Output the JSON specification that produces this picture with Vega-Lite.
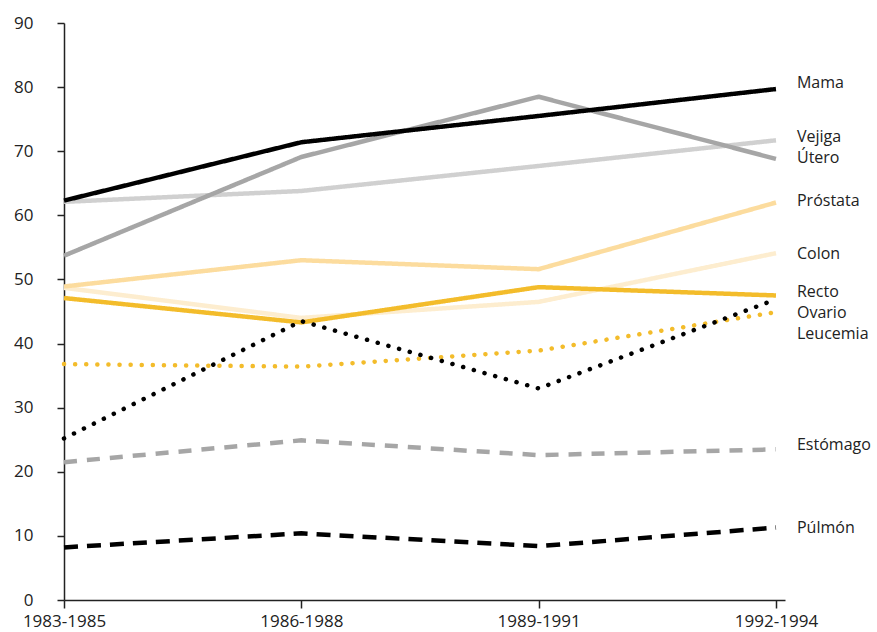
{
  "$schema": "https://vega.github.io/schema/vega-lite/v6.json",
  "width": 721,
  "height": 577,
  "autosize": {"type": "none"},
  "padding": {"left": 64, "top": 23, "right": 92, "bottom": 32},
  "background": "white",
  "config": {"view": {"stroke": null}, "font": "Open Sans"},
  "datasets": {
    "series": [
      {"s": "Púlmón", "t": 0, "v": 8.2}, {"s": "Púlmón", "t": 1, "v": 10.4}, {"s": "Púlmón", "t": 2, "v": 8.4}, {"s": "Púlmón", "t": 3, "v": 11.3},
      {"s": "Estómago", "t": 0, "v": 21.5}, {"s": "Estómago", "t": 1, "v": 24.9}, {"s": "Estómago", "t": 2, "v": 22.6}, {"s": "Estómago", "t": 3, "v": 23.5},
      {"s": "Colon", "t": 0, "v": 48.7}, {"s": "Colon", "t": 1, "v": 44.0}, {"s": "Colon", "t": 2, "v": 46.5}, {"s": "Colon", "t": 3, "v": 54.1},
      {"s": "Recto", "t": 0, "v": 47.1}, {"s": "Recto", "t": 1, "v": 43.3}, {"s": "Recto", "t": 2, "v": 48.8}, {"s": "Recto", "t": 3, "v": 47.5},
      {"s": "Próstata", "t": 0, "v": 48.9}, {"s": "Próstata", "t": 1, "v": 53.0}, {"s": "Próstata", "t": 2, "v": 51.6}, {"s": "Próstata", "t": 3, "v": 62.0},
      {"s": "Vejiga", "t": 0, "v": 62.1}, {"s": "Vejiga", "t": 1, "v": 63.8}, {"s": "Vejiga", "t": 2, "v": 67.7}, {"s": "Vejiga", "t": 3, "v": 71.7},
      {"s": "Útero", "t": 0, "v": 53.7}, {"s": "Útero", "t": 1, "v": 69.1}, {"s": "Útero", "t": 2, "v": 78.5}, {"s": "Útero", "t": 3, "v": 68.8},
      {"s": "Mama", "t": 0, "v": 62.3}, {"s": "Mama", "t": 1, "v": 71.4}, {"s": "Mama", "t": 2, "v": 75.5}, {"s": "Mama", "t": 3, "v": 79.7}
    ],
    "dotted": [
      {"s": "Ovario", "t": 0, "v": 36.8}, {"s": "Ovario", "t": 1, "v": 36.4}, {"s": "Ovario", "t": 2, "v": 38.9}, {"s": "Ovario", "t": 3, "v": 44.9},
      {"s": "Leucemia", "t": 0, "v": 25.2}, {"s": "Leucemia", "t": 1, "v": 43.5}, {"s": "Leucemia", "t": 2, "v": 33.0}, {"s": "Leucemia", "t": 3, "v": 46.9}
    ],
    "labels": [
      {"s": "Mama", "v": 80.7}, {"s": "Vejiga", "v": 72.2}, {"s": "Útero", "v": 69.0},
      {"s": "Próstata", "v": 62.2}, {"s": "Colon", "v": 54.0}, {"s": "Recto", "v": 48.0},
      {"s": "Ovario", "v": 44.8}, {"s": "Leucemia", "v": 41.5}, {"s": "Estómago", "v": 24.2},
      {"s": "Púlmón", "v": 11.2}
    ]
  },
  "layer": [
    {
      "data": {"name": "series"},
      "mark": {"type": "line", "strokeWidth": 4.5, "strokeCap": "butt", "strokeJoin": "miter"},
      "encoding": {
        "x": {
          "field": "t", "type": "quantitative",
          "scale": {"domain": [0, 3.038], "nice": false, "zero": false},
          "axis": {
            "values": [0, 1, 2, 3],
            "labelExpr": "['1983-1985','1986-1988','1989-1991','1992-1994'][datum.value]",
            "title": null, "grid": false,
            "domainColor": "#222", "domainWidth": 1.5,
            "tickColor": "#222", "tickWidth": 1.5, "tickSize": 8,
            "labelFontSize": 17, "labelColor": "#222", "labelPadding": 5,
            "labelFlush": false, "labelOverlap": false
          }
        },
        "y": {
          "field": "v", "type": "quantitative",
          "scale": {"domain": [0, 90], "nice": false},
          "axis": {
            "values": [0, 10, 20, 30, 40, 50, 60, 70, 80, 90],
            "title": null, "grid": false,
            "domainColor": "#222", "domainWidth": 1.5,
            "tickColor": "#222", "tickWidth": 1.5, "tickSize": 7,
            "labelFontSize": 17, "labelColor": "#222", "labelPadding": 24
          }
        },
        "color": {
          "field": "s", "type": "nominal", "legend": null,
          "scale": {
            "domain": ["Mama", "Vejiga", "Útero", "Próstata", "Colon", "Recto", "Estómago", "Púlmón"],
            "range": ["#000000", "#d0d0d0", "#a6a6a6", "#fcdc9e", "#fdedcf", "#f3bc2b", "#a6a6a6", "#000000"]
          }
        },
        "strokeDash": {
          "field": "s", "type": "nominal", "legend": null,
          "scale": {
            "domain": ["Mama", "Vejiga", "Útero", "Próstata", "Colon", "Recto", "Estómago", "Púlmón"],
            "range": [[1, 0], [1, 0], [1, 0], [1, 0], [1, 0], [1, 0], [13, 10], [14, 9]]
          }
        },
        "order": {"field": "t"}
      }
    },
    {
      "data": {"name": "dotted"},
      "mark": {"type": "line", "strokeWidth": 4.5, "strokeCap": "round", "strokeDash": [0.1, 11]},
      "encoding": {
        "x": {"field": "t", "type": "quantitative"},
        "y": {"field": "v", "type": "quantitative"},
        "color": {
          "field": "s", "type": "nominal", "legend": null,
          "scale": {"domain": ["Ovario", "Leucemia"], "range": ["#f3bc2b", "#000000"]}
        },
        "order": {"field": "t"}
      }
    },
    {
      "data": {"name": "labels"},
      "mark": {"type": "text", "align": "left", "baseline": "middle", "dx": 21, "fontSize": 16, "color": "#222"},
      "encoding": {
        "x": {"datum": 3, "type": "quantitative"},
        "y": {"field": "v", "type": "quantitative"},
        "text": {"field": "s"}
      }
    }
  ],
  "resolve": {"scale": {"color": "independent"}}
}
